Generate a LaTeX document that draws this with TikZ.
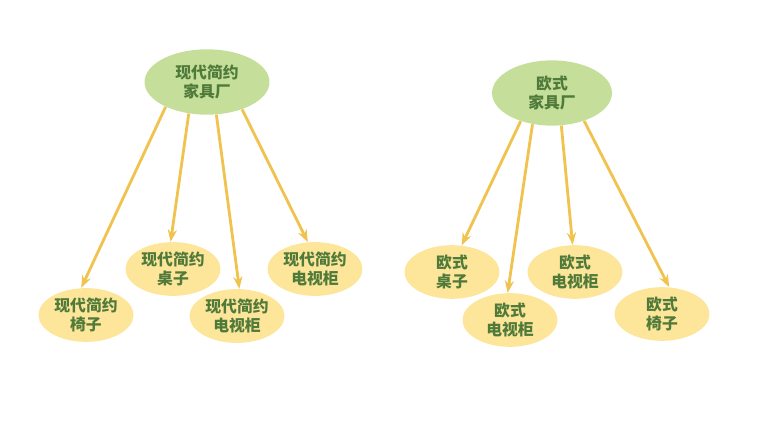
\documentclass[tikz,border=0pt]{standalone}
\usepackage{fontspec}
\setmainfont{Noto Sans CJK SC}
\usetikzlibrary{positioning, arrows.meta, shapes.geometric}
\definecolor{leafgreen}{HTML}{C5DF9B}
\definecolor{sand}{HTML}{FDE59A}
\definecolor{honey}{HTML}{F0C24E}
\definecolor{moss}{HTML}{4F7A3A}

\begin{document}
\begin{tikzpicture}[x=0.02cm, y=-0.02cm,
    factory/.style={ellipse,
    fill=leafgreen, % Parent fill colour.
    text=moss,
    minimum width=2.5cm,
    minimum height=1.3cm,
    align=center,
    font=\bfseries\small},
    item/.style={ellipse,
    fill=sand, % Child fill colour.
    text=moss,
    minimum width=1.9cm,
    minimum height=0.95cm,
    align=center,
    inner sep=1pt,
    font=\bfseries\small},
    arrow/.style={-{Stealth[length=7pt]}, draw=honey, line width=1.6pt}]

        \useasboundingbox (0,0) rectangle (764,421);

        % Parents.
        \node[factory] (m) at (207,82) {现代简约\\家具厂};
        \node[factory, minimum width=2.4cm] (e) at (552,93) {欧式\\家具厂};

        % Children.
        \node[item] (m1) at (86,315) {现代简约\\椅子};
        \node[item] (m2) at (173,269) {现代简约\\桌子};
        \node[item] (m3) at (237,316) {现代简约\\电视柜};
        \node[item] (m4) at (315,269) {现代简约\\电视柜};
        \node[item] (e1) at (452,272) {欧式\\桌子};
        \node[item] (e2) at (510,320) {欧式\\电视柜};
        \node[item] (e3) at (575,272) {欧式\\电视柜};
        \node[item] (e4) at (662,314) {欧式\\椅子};

        % Directed edges.
        \foreach \p/\a/\c/\b in {m/211/m1/100, m/240/m2/95, m/286/m3/85, m/322/m4/105,
                                 e/222/e1/70, e/238/e2/95, e/286/e3/95, e/319/e4/75}
        \draw[arrow] (\p.\a) -- (\c.\b);
    \end{tikzpicture}
\end{document}
